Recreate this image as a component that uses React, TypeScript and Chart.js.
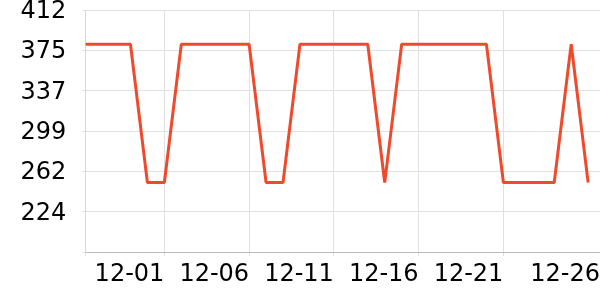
import { useEffect, useRef } from 'react';
import { Chart, registerables } from 'chart.js';

Chart.register(...registerables);

// Dates (MM-DD), one per day
const dates = [
  '11-26', '11-27', '11-28', '11-29', '11-30',
  '12-01', '12-02', '12-03', '12-04', '12-05',
  '12-06', '12-07', '12-08', '12-09', '12-10',
  '12-11', '12-12', '12-13', '12-14', '12-15',
  '12-16', '12-17', '12-18', '12-19', '12-20',
  '12-21', '12-22', '12-23', '12-24', '12-25',
  '12-26',
];

// Series values
const values = [
  380.6, 380.6, 380.6, 380.6, 251.7,
  251.7, 380.6, 380.6, 380.6, 380.6,
  380.6, 251.7, 251.7, 380.6, 380.6,
  380.6, 380.6, 380.6, 251.7, 380.6,
  380.6, 380.6, 380.6, 380.6, 380.6,
  251.7, 251.7, 251.7, 251.7, 380.6,
  251.7,
];

// Axis ticks (x in day index, y in value)
const xTicks = [0.36, 5, 10, 15, 20, 25, 30.7];
const yTicks = [186.6, 224.2, 261.8, 299.4, 337.0, 374.6, 412.2];

const FONT = { family: 'DejaVu Sans', size: 24 };
const GRID = '#e0e0e0';

export default function App() {
  const ref = useRef<HTMLCanvasElement>(null);

  useEffect(() => {
    document.body.style.margin = '0';
    const chart = new Chart(ref.current as HTMLCanvasElement, {
      type: 'line',
      data: {
        datasets: [
          {
            data: values.map((v, i) => ({ x: i, y: v })),
            borderColor: '#ef4a2c',
            backgroundColor: '#ef4a2c',
            borderWidth: 3,
            borderJoinStyle: 'bevel',
            pointRadius: 0,
            tension: 0,
            fill: false,
          },
        ],
      },
      options: {
        animation: false,
        responsive: true,
        maintainAspectRatio: false,
        layout: { padding: { left: 20.4, right: 0, top: 0, bottom: 10.4 } },
        plugins: { legend: { display: false }, tooltip: { enabled: false } },
        scales: {
          x: {
            type: 'linear',
            min: xTicks[0],
            max: xTicks[xTicks.length - 1],
            afterBuildTicks: (scale: any) => {
              scale.ticks = xTicks.map((v) => ({ value: v }));
            },
            ticks: {
              padding: 0,
              align: 'end',
              autoSkip: false,
              maxRotation: 0,
              minRotation: 0,
              font: FONT,
              color: '#000',
              callback: (v: any, i: number) =>
                i === 0 ? '' : dates[i === xTicks.length - 1 ? Math.floor(v) : Math.round(v)],
            },
            grid: {
              color: (ctx: any) => (ctx.index === xTicks.length - 1 ? 'rgba(0,0,0,0)' : GRID),
              tickLength: 8.5,
              tickBorderDash: [3, 100],
            },
            border: { color: '#bdbdbd' },
          },
          y: {
            type: 'linear',
            min: yTicks[0],
            max: yTicks[yTicks.length - 1],
            afterBuildTicks: (scale: any) => {
              scale.ticks = yTicks.map((v) => ({ value: v }));
            },
            ticks: {
              padding: 0,
              labelOffset: 1.5,
              font: { ...FONT, lineHeight: 0.858 },
              color: '#000',
              callback: (v: any, i: number) => (i === 0 ? '' : String(Math.round(v))),
            },
            grid: {
              color: GRID,
              tickLength: 19.5,
              tickBorderDash: [0, 16.5, 3, 100],
            },
            border: { color: '#d6d6d6' },
          },
        },
      },
    } as any);
    return () => chart.destroy();
  }, []);

  return (
    <div style={{ width: 600, height: 300, position: 'relative' }}>
      <canvas ref={ref} />
    </div>
  );
}
